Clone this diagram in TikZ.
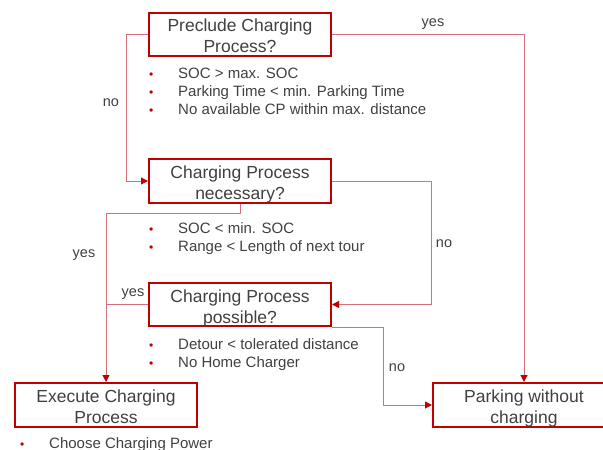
\documentclass[tikz,border=0pt]{standalone}
\usepackage{fontspec}
\setmainfont{Liberation Sans}
\usetikzlibrary{arrows.meta, positioning}
\definecolor{cred}{HTML}{C00000}
\definecolor{cline}{HTML}{D6707A}
\definecolor{ctext}{HTML}{404040}
\newcommand{\bul}{\textcolor{cred}{\fontsize{12}{12}\selectfont\textbullet}}
\tikzset{
  every picture/.style={x=1pt, y=-1pt, font=\fontsize{15}{18}\selectfont, text=ctext},
  box/.style={draw=cred, line width=2pt, align=center, minimum width=182pt, minimum height=43pt, inner sep=0pt, text height=37pt, text depth=0pt, font=\fontsize{17.5}{21}\selectfont},
  arrow/.style={-{Triangle[length=7pt, width=7pt, color=cred]}, draw=cline, line width=1pt},
  link/.style={draw=cline, line width=1pt},
  lbl/.style={font=\fontsize{14.5}{18}\selectfont},
  bullets/.style={anchor=base west, inner sep=0pt},
}

\begin{document}
\begin{tikzpicture}
  \useasboundingbox (0,0) rectangle (603,450);
  % decision boxes
  \node[box] (preclude) at (240, 34) {Preclude Charging\\Process?};
  \node[box, minimum height=44pt] (necessary) at (240, 181) {Charging Process\\necessary?};
  \node[box] (possible) at (240, 304.5) {Charging Process\\possible?};
  \node[box, minimum height=44pt] (execute) at (106, 405) {Execute Charging\\Process};
  \node[box, minimum height=44pt] (parking) at (524, 405) {Parking without\\charging};
  % conditions
  \node[bullets] (precludelist) at (149, 78) {\begin{tabular}[t]{@{}p{29pt}@{}l@{}}
    \bul & SOC > max. SOC\\
    \bul & Parking Time < min. Parking Time\\
    \bul & No available CP within max. distance
  \end{tabular}};
  \node[bullets] (necessarylist) at (149, 233) {\begin{tabular}[t]{@{}p{29pt}@{}l@{}}
    \bul & SOC < min. SOC\\
    \bul & Range < Length of next tour
  \end{tabular}};
  \node[bullets] (possiblelist) at (149, 349) {\begin{tabular}[t]{@{}p{29pt}@{}l@{}}
    \bul & Detour < tolerated distance\\
    \bul & No Home Charger
  \end{tabular}};
  \node[bullets] (executelist) at (20, 448) {\begin{tabular}[t]{@{}p{29pt}@{}l@{}}
    \bul & Choose Charging Power
  \end{tabular}};
  % connectors
  \draw[arrow] (preclude.east) -| (parking.north);
  \draw[arrow] (preclude.west) -- ++(-22,0) |- (necessary.west);
  \draw[arrow] (necessary.east) -- ++(99,0) |- (possible.east);
  \draw[arrow] (necessary.south) -- ++(0,9) -| (execute.north);
  \draw[link] (possible.west) -- (possible.west -| execute.north);
  \draw[arrow] (possible.south east) -- ++(51,0) |- (parking.west);
  % answers
  \node[lbl] (yes1) at (433, 24.5) {yes};
  \node[lbl] (no1) at (111, 103) {no};
  \node[lbl] (no2) at (444, 244) {no};
  \node[lbl] (yes2) at (84, 255.5) {yes};
  \node[lbl] (yes3) at (133, 294.5) {yes};
  \node[lbl] (no3) at (397, 368) {no};
\end{tikzpicture}
\end{document}
